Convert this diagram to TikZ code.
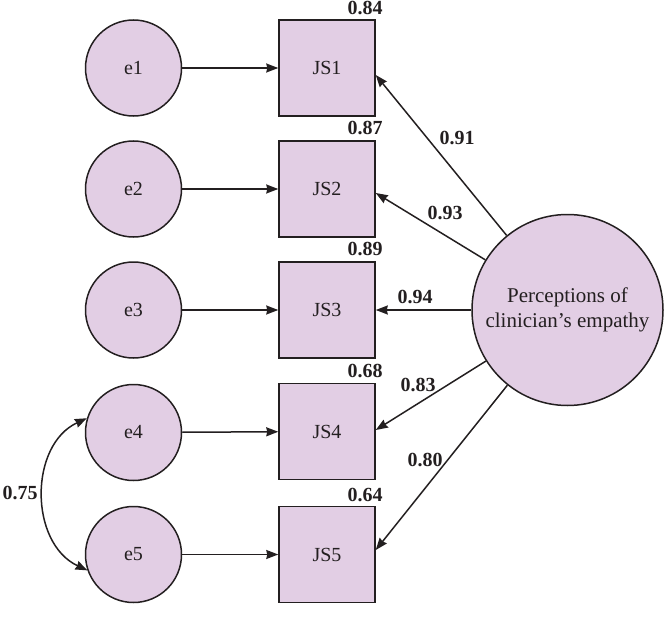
\documentclass[tikz,border=0pt]{standalone}
\usepackage{fontspec}
\setmainfont{Liberation Serif}
\usetikzlibrary{arrows.meta,calc}
\definecolor{lav}{RGB}{226,206,228}
\definecolor{ink}{RGB}{35,31,32}
\begin{document}
\begin{tikzpicture}[x=1pt,y=-1pt,
 every node/.style={font=\fontsize{20}{26}\selectfont, text=ink},
 errc/.style={circle, draw=ink, fill=lav, line width=1.5pt, minimum size=96pt, inner sep=0pt},
 obs/.style={rectangle, draw=ink, fill=lav, line width=1.5pt, minimum size=96pt, inner sep=0pt},
 lat/.style={circle, draw=ink, fill=lav, line width=1.5pt, minimum size=191pt, inner sep=0pt, align=center, font=\fontsize{21}{25}\selectfont},
 load/.style={draw=ink, line width=1.5pt, -{Stealth[length=12pt,width=9pt,inset=1pt]}},
 covar/.style={draw=ink, line width=1.5pt, {Stealth[length=12pt,width=9pt,inset=1pt]}-{Stealth[length=12pt,width=9pt,inset=1pt]}},
 coef/.style={font=\fontsize{20}{24}\selectfont\bfseries, inner sep=0pt}
]
\useasboundingbox (0,0) rectangle (664,623);

\node[errc] (e1) at (133.5,68) {e1};
\node[errc] (e2) at (133.5,189) {e2};
\node[errc] (e3) at (133.5,310) {e3};
\node[errc] (e4) at (133.5,432.5) {e4};
\node[errc] (e5) at (133.5,554.5) {e5};

\node[obs] (JS1) at (327,68) {JS1};
\node[obs] (JS2) at (327,189) {JS2};
\node[obs] (JS3) at (327,310) {JS3};
\node[obs] (JS4) at (327,431.5) {JS4};
\node[obs] (JS5) at (327,554.5) {JS5};

\node[lat] (P) at (567.5,310) {Perceptions of\\clinician’s empathy};

\foreach \i in {1,...,5} {\draw[load] (e\i) -- (JS\i);}

\coordinate (t1) at ($(JS1.east)+(0,7)$);
\coordinate (t2) at ($(JS2.east)+(0,4)$);
\coordinate (t3) at (JS3.east);
\coordinate (t4) at ($(JS4.east)+(0,-1.5)$);
\coordinate (t5) at ($(JS5.east)+(0,-4.5)$);
\foreach \i in {1,...,5} {\draw[load] (P) -- (t\i);}

\draw[covar] (e4.163) .. controls (29,445) and (29,543) .. (e5.199);

\node[coef] (r1) at (365,8) {0.84};
\node[coef] (r2) at (365,128) {0.87};
\node[coef] (r3) at (365,249) {0.89};
\node[coef] (r4) at (365,371) {0.68};
\node[coef] (r5) at (365,495) {0.64};

\node[coef] (l1) at (457,138) {0.91};
\node[coef] (l2) at (445,213) {0.93};
\node[coef] (l3) at (415,297) {0.94};
\node[coef] (l4) at (418,385) {0.83};
\node[coef] (l5) at (425,460) {0.80};
\node[coef] (c45) at (20,493) {0.75};
\end{tikzpicture}
\end{document}
